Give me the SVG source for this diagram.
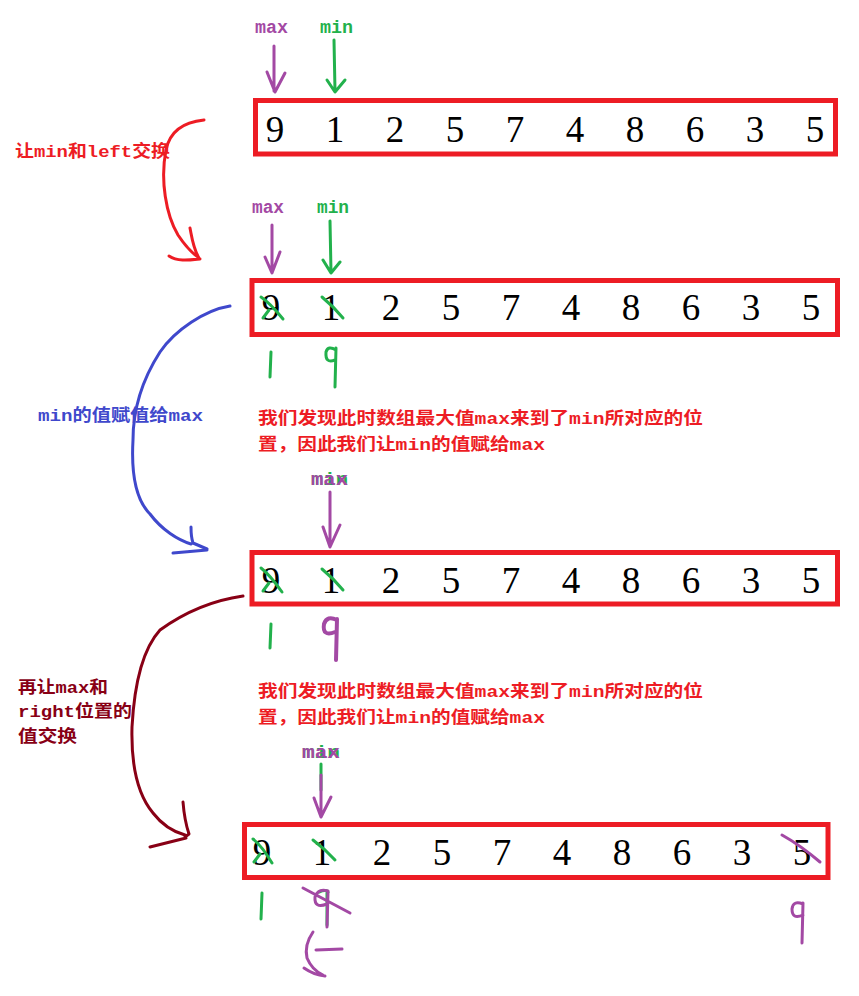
<svg xmlns="http://www.w3.org/2000/svg" width="859" height="996" viewBox="0 0 859 996">
<style>
.box{fill:none;stroke:#ed1c24;stroke-width:5}
.dig{font-family:"Liberation Serif","Times New Roman",serif;font-size:37px;fill:#000;text-anchor:middle}
.lbl{font-family:"Liberation Mono","Courier New",monospace;font-size:18px;font-weight:bold}
.txt{font-family:"Liberation Mono","Noto Sans CJK SC",monospace;font-size:17px;font-weight:bold}
.pu{fill:#a349a4}.gr{fill:#22b14c}
.sp{fill:none;stroke:#a349a4;stroke-width:3;stroke-linecap:round;stroke-linejoin:round}
.sg{fill:none;stroke:#22b14c;stroke-width:3;stroke-linecap:round;stroke-linejoin:round}
.cv{fill:none;stroke-width:3;stroke-linecap:round;stroke-linejoin:round}
</style>
<rect width="859" height="996" fill="#fff"/>

<!-- Row 1 -->
<g id="row1">
<rect class="box" x="255.5" y="100.5" width="580" height="53.5"/>
<g class="dig">
<text x="275" y="142">9</text><text x="335" y="142">1</text><text x="395" y="142">2</text><text x="455" y="142">5</text><text x="515" y="142">7</text><text x="575" y="142">4</text><text x="635" y="142">8</text><text x="695" y="142">6</text><text x="755" y="142">3</text><text x="815" y="142">5</text>
</g>
<text class="lbl pu" x="255" y="33" textLength="33" lengthAdjust="spacingAndGlyphs">max</text>
<text class="lbl gr" x="320" y="33" textLength="33" lengthAdjust="spacingAndGlyphs">min</text>
</g>

<!-- Row 2 -->
<g id="row2">
<rect class="box" x="252" y="280.5" width="585.5" height="54"/>
<g class="dig">
<text x="271" y="320">9</text><text x="331" y="320">1</text><text x="391" y="320">2</text><text x="451" y="320">5</text><text x="511" y="320">7</text><text x="571" y="320">4</text><text x="631" y="320">8</text><text x="691" y="320">6</text><text x="751" y="320">3</text><text x="811" y="320">5</text>
</g>
<text class="lbl pu" x="252" y="213" textLength="32" lengthAdjust="spacingAndGlyphs">max</text>
<text class="lbl gr" x="317" y="213" textLength="32" lengthAdjust="spacingAndGlyphs">min</text>
<path class="sg" d="M261,297 Q270,303 283,319 M263,318 L269,310"/>
<path class="sg" d="M322,297 Q333,306 343,318"/>
<path class="sg" d="M271,352 L270,377"/>
<path class="sg" d="M336,350 Q328,345 326,352 Q325,364 335,360 M336,348 L335,387"/>
</g>

<!-- Row 3 -->
<g id="row3">
<rect class="box" x="252" y="552.5" width="585.5" height="51.5"/>
<g class="dig">
<text x="271" y="593">9</text><text x="331" y="593">1</text><text x="391" y="593">2</text><text x="451" y="593">5</text><text x="511" y="593">7</text><text x="571" y="593">4</text><text x="631" y="593">8</text><text x="691" y="593">6</text><text x="751" y="593">3</text><text x="811" y="593">5</text>
</g>
<text class="lbl gr" x="311" y="485" textLength="37" lengthAdjust="spacingAndGlyphs">min</text>
<text class="lbl pu" x="311" y="485" textLength="37" lengthAdjust="spacingAndGlyphs">max</text>
<path class="sg" d="M261,568 Q270,575 282,592 M263,591 L269,583"/>
<path class="sg" d="M322,569 Q333,578 343,590"/>
<path class="sg" d="M271,624 L270,648"/>
<path class="sp" d="M337,620 Q327,615 324,624 Q322,637 335,632 M337,619 L336,660" style="stroke-width:4"/>
</g>

<!-- Row 4 -->
<g id="row4">
<rect class="box" x="244.5" y="824.5" width="583.5" height="53"/>
<g class="dig">
<text x="262" y="865">9</text><text x="322" y="865">1</text><text x="382" y="865">2</text><text x="442" y="865">5</text><text x="502" y="865">7</text><text x="562" y="865">4</text><text x="622" y="865">8</text><text x="682" y="865">6</text><text x="742" y="865">3</text><text x="802" y="865">5</text>
</g>
<text class="lbl gr" x="302" y="758" textLength="38" lengthAdjust="spacingAndGlyphs">min</text>
<text class="lbl pu" x="302" y="758" textLength="38" lengthAdjust="spacingAndGlyphs">max</text>
<path class="sg" d="M253,839 Q262,846 272,863 M254,862 L260,854"/>
<path class="sg" d="M313,840 Q325,849 335,860"/>
<path class="sp" d="M782,835 Q800,845 820,862"/>
<path class="sg" d="M262,893 L261,919"/>
<path class="sg" d="M319,892 Q326,889 328,892 M327,893 L327,925"/>
<path class="sp" d="M328,891 Q318,888 315,897 Q314,909 327,904 M328,892 L327,927 M303,888 L350,913"/>
<path class="sp" d="M313,932 Q304,945 307,958 Q312,970 323,975 M304,968 Q314,975 325,976 M316,950 L342,949"/>
<path class="sp" d="M803,904 Q793,900 792,909 Q792,920 803,915 M803,903 L802,943"/>
</g>

<!-- Texts -->
<g id="notes">
<text class="txt" x="15" y="157" fill="#ed1c24" textLength="155" lengthAdjust="spacingAndGlyphs">让min和left交换</text>
<text class="txt" x="38" y="421" fill="#3f48cc" textLength="165" lengthAdjust="spacingAndGlyphs">min的值赋值给max</text>
<text class="txt" x="258" y="424" fill="#ed1c24" textLength="445" lengthAdjust="spacingAndGlyphs">我们发现此时数组最大值max来到了min所对应的位</text>
<text class="txt" x="258" y="450" fill="#ed1c24" textLength="287" lengthAdjust="spacingAndGlyphs">置，因此我们让min的值赋给max</text>
<text class="txt" x="258" y="697" fill="#ed1c24" textLength="445" lengthAdjust="spacingAndGlyphs">我们发现此时数组最大值max来到了min所对应的位</text>
<text class="txt" x="258" y="723" fill="#ed1c24" textLength="287" lengthAdjust="spacingAndGlyphs">置，因此我们让min的值赋给max</text>
<text class="txt" x="18" y="693" fill="#880015" textLength="90" lengthAdjust="spacingAndGlyphs">再让max和</text>
<text class="txt" x="18" y="717" fill="#880015" textLength="114" lengthAdjust="spacingAndGlyphs">right位置的</text>
<text class="txt" x="18" y="742" fill="#880015" textLength="59" lengthAdjust="spacingAndGlyphs">值交换</text>
</g>

<!-- Connectors -->
<g id="connectors">
<path class="sp" d="M274,46 L274,91 M267,72 L275,92 L285,73"/>
<path class="sg" d="M334,40 L335,91 M327,80 L335,92 L345,80"/>
<path class="sp" d="M272,225 L272,272 M265,257 L272,273 L280,252"/>
<path class="sg" d="M330,221 L331,272 M323,260 L331,273 L340,262"/>
<path class="sp" d="M330,492 L330,546 M323,527 L330,547 L340,525"/>
<path class="sg" d="M321,764 L321,790"/>
<path class="sp" d="M321,775 L321,816 M314,798 L321,817 L331,797"/>
<path class="cv" stroke="#ed1c24" d="M204,120 C184,122 170,130 166,150 C160,180 166,215 178,235 C186,247 192,253 198,257 M190,228 C192,238 193,248 199,258 M169,256 C178,262 190,260 200,259"/>
<path class="cv" stroke="#3f48cc" d="M230,306 C205,310 175,330 160,352 C142,380 133,410 133,440 C131,475 136,500 150,514 C162,530 178,540 191,544 M191,527 C191,535 192,540 193,543 L207,549 M173,553 L207,550"/>
<path class="cv" stroke="#880015" d="M243,596 C215,600 185,612 160,630 C140,652 134,690 132,727 C131,765 138,795 153,813 C163,826 174,832 185,835 M183,802 C184,815 186,825 189,834 L185,837 M150,847 L186,838"/>
</g>
</svg>
